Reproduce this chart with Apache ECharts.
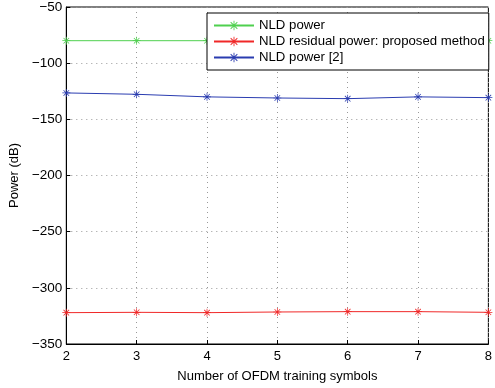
<!DOCTYPE html>
<html><head><meta charset="utf-8">
<script src="https://cdn.jsdelivr.net/npm/echarts@6/dist/echarts.min.js"></script>
<style>html,body{margin:0;padding:0;background:#fff}#c{width:495px;height:388px}</style>
</head><body><div id="c"></div>
<script>
const xValues = [2, 3, 4, 5, 6, 7, 8];
const nldPower = [-80, -80, -80, -80, -80, -80, -80];
const nldResidualProposed = [-322.1, -321.8, -322.1, -321.5, -321.2, -321.2, -321.8];
const nldPowerRef2 = [-126.5, -127.7, -130, -131, -131.6, -130, -130.7];
const seriesNames = ['NLD power', 'NLD residual power: proposed method', 'NLD power [2]'];
const seriesColors = ['#4fd04f', '#f02828', '#2a3cb0'];

const star = 'path://M4.55 0 L5.45 0 L5.45 10 L4.55 10 Z M0 4.55 L10 4.55 L10 5.45 L0 5.45 Z M1.2 1.85 L1.85 1.2 L8.8 8.15 L8.15 8.8 Z M8.15 1.2 L8.8 1.85 L1.85 8.8 L1.2 8.15 Z';
const font = 'Liberation Sans, Arial, Helvetica, sans-serif';
const minus = v => String(v).replace('-', '\u2212');

function mk(name, vals, color) {
  return {
    name: name, type: 'line',
    data: xValues.map((x, i) => [x, vals[i]]),
    symbol: star, symbolSize: 8,
    itemStyle: { color: color },
    lineStyle: { color: color, width: 1 },
    emphasis: { disabled: true },
    animation: false
  };
}

const chart = echarts.init(document.getElementById('c'), null, { renderer: 'canvas' });
chart.setOption({
  animation: false,
  grid: { left: 62, right: 2, top: 7, bottom: 40, show: true, borderColor: '#000', borderWidth: 1, backgroundColor: 'transparent' },
  legend: {
    data: seriesNames,
    orient: 'vertical', left: 207, top: 13,
    padding: [6, 4, 6, 6], itemGap: 3, itemWidth: 40, itemHeight: 12,
    backgroundColor: '#fff', borderColor: '#000', borderWidth: 1,
    textStyle: { fontFamily: font, fontSize: 13.2, color: '#000' },
    selectedMode: false
  },
  xAxis: {
    type: 'value', min: 2, max: 8, interval: 1,
    name: 'Number of OFDM training symbols', nameLocation: 'middle', nameGap: 26,
    nameTextStyle: { fontFamily: font, fontSize: 13, color: '#000' },
    axisLine: { show: true, onZero: false, lineStyle: { color: '#000', width: 1 } },
    axisTick: { show: true, inside: true, length: 4, lineStyle: { color: '#000' } },
    axisLabel: { fontFamily: font, fontSize: 13, color: '#000', margin: 6 },
    splitLine: { show: true, lineStyle: { color: '#999', type: [1, 4], width: 1 } }
  },
  yAxis: {
    type: 'value', min: -350, max: -50, interval: 50,
    name: 'Power (dB)', nameLocation: 'middle', nameGap: 41,
    nameTextStyle: { fontFamily: font, fontSize: 13, color: '#000' },
    axisLine: { show: true, onZero: false, lineStyle: { color: '#000', width: 1 } },
    axisTick: { show: true, inside: true, length: 4, lineStyle: { color: '#000' } },
    axisLabel: { fontFamily: font, fontSize: 13.5, color: '#000', margin: 4, formatter: minus },
    splitLine: { show: true, lineStyle: { color: '#999', type: [1, 4], width: 1 } }
  },
  series: [
    mk(seriesNames[0], nldPower, seriesColors[0]),
    mk(seriesNames[1], nldResidualProposed, seriesColors[1]),
    mk(seriesNames[2], nldPowerRef2, seriesColors[2])
  ]
});
</script></body></html>
